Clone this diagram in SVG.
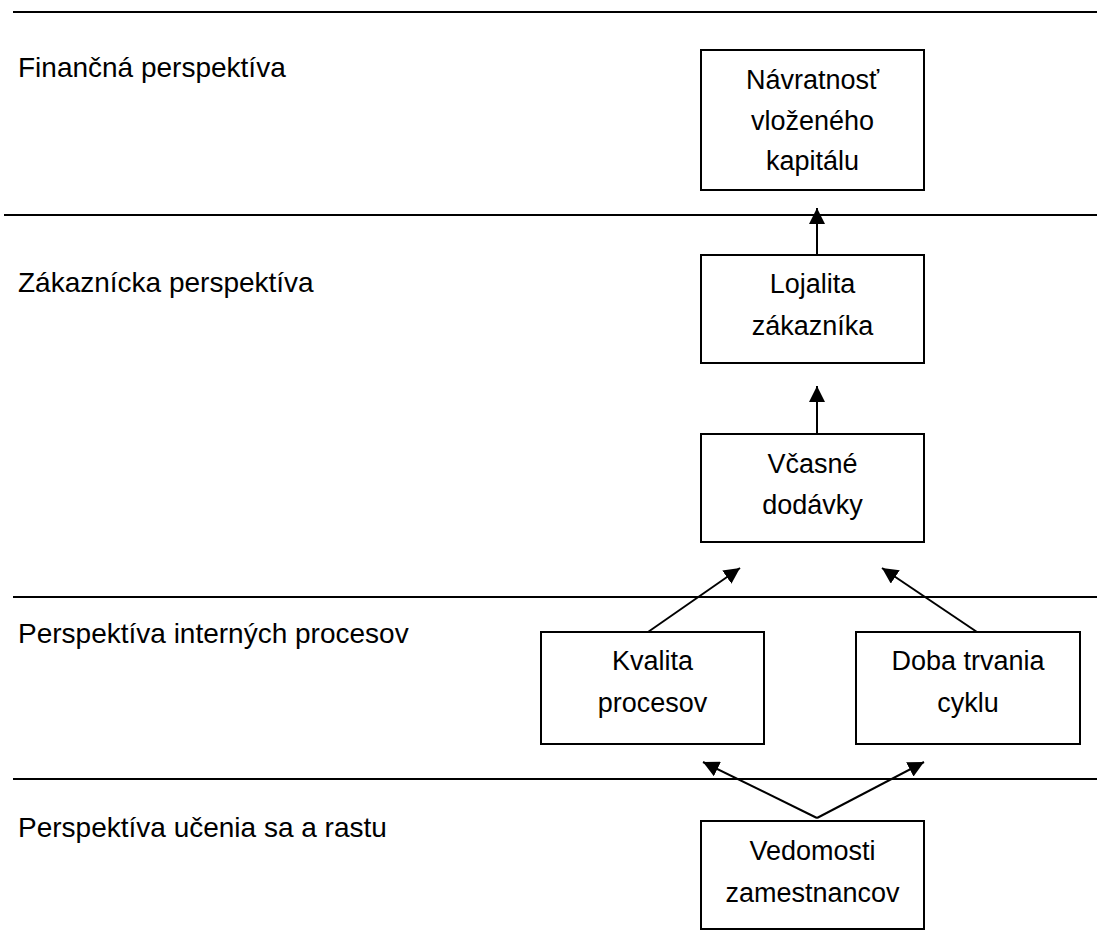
<svg xmlns="http://www.w3.org/2000/svg" width="1101" height="944" viewBox="0 0 1101 944">
<defs>
<style>
.sep{stroke:#000;stroke-width:2;fill:none}
.box{fill:#fff;stroke:#000;stroke-width:2}
.lbl{font-family:"Liberation Sans",Arial,sans-serif;font-size:28px;fill:#000}
.txt{font-family:"Liberation Sans",Arial,sans-serif;font-size:27px;fill:#000;text-anchor:middle}
.con{stroke:#000;stroke-width:2;fill:none;marker-end:url(#ah)}
</style>
<marker id="ah" viewBox="0 0 10 10" refX="10" refY="5" markerWidth="8" markerHeight="8" markerUnits="strokeWidth" orient="auto">
<path d="M0,0 L10,5 L0,10 z" fill="#000"/>
</marker>
</defs>
<rect width="1101" height="944" fill="#fff"/>
<g id="bands">
<line class="sep" x1="13" y1="12" x2="1097" y2="12"/>
<line class="sep" x1="4" y1="215" x2="1097" y2="215"/>
<line class="sep" x1="13" y1="597" x2="1097" y2="597"/>
<line class="sep" x1="13" y1="779" x2="1097" y2="779"/>
<text class="lbl" x="18" y="77">Finančná perspektíva</text>
<text class="lbl" x="18" y="292">Zákaznícka perspektíva</text>
<text class="lbl" x="18" y="643">Perspektíva interných procesov</text>
<text class="lbl" x="18" y="837">Perspektíva učenia sa a rastu</text>
</g>
<g id="connectors">
<line class="con" x1="817" y1="255" x2="817" y2="208"/>
<line class="con" x1="817" y1="434" x2="817" y2="386"/>
<line class="con" x1="648" y1="632" x2="740" y2="568"/>
<line class="con" x1="977" y1="632" x2="882" y2="568"/>
<line class="con" x1="817" y1="818" x2="703" y2="762"/>
<line class="con" x1="817" y1="818" x2="924" y2="762"/>
</g>
<g id="n1">
<rect class="box" x="701" y="50" width="223" height="140"/>
<text class="txt" x="812.5" y="89">Návratnosť</text>
<text class="txt" x="812.5" y="130">vloženého</text>
<text class="txt" x="812.5" y="170">kapitálu</text>
</g>
<g id="n2">
<rect class="box" x="701" y="255" width="223" height="108"/>
<text class="txt" x="812.5" y="293">Lojalita</text>
<text class="txt" x="812.5" y="335">zákazníka</text>
</g>
<g id="n3">
<rect class="box" x="701" y="434" width="223" height="108"/>
<text class="txt" x="812.5" y="473">Včasné</text>
<text class="txt" x="812.5" y="514">dodávky</text>
</g>
<g id="n4">
<rect class="box" x="541" y="632" width="223" height="112"/>
<text class="txt" x="652.5" y="670">Kvalita</text>
<text class="txt" x="652.5" y="712">procesov</text>
</g>
<g id="n5">
<rect class="box" x="856" y="632" width="224" height="112"/>
<text class="txt" x="968" y="670">Doba trvania</text>
<text class="txt" x="968" y="712">cyklu</text>
</g>
<g id="n6">
<rect class="box" x="701" y="821" width="223" height="108"/>
<text class="txt" x="812.5" y="860">Vedomosti</text>
<text class="txt" x="812.5" y="902">zamestnancov</text>
</g>
</svg>
